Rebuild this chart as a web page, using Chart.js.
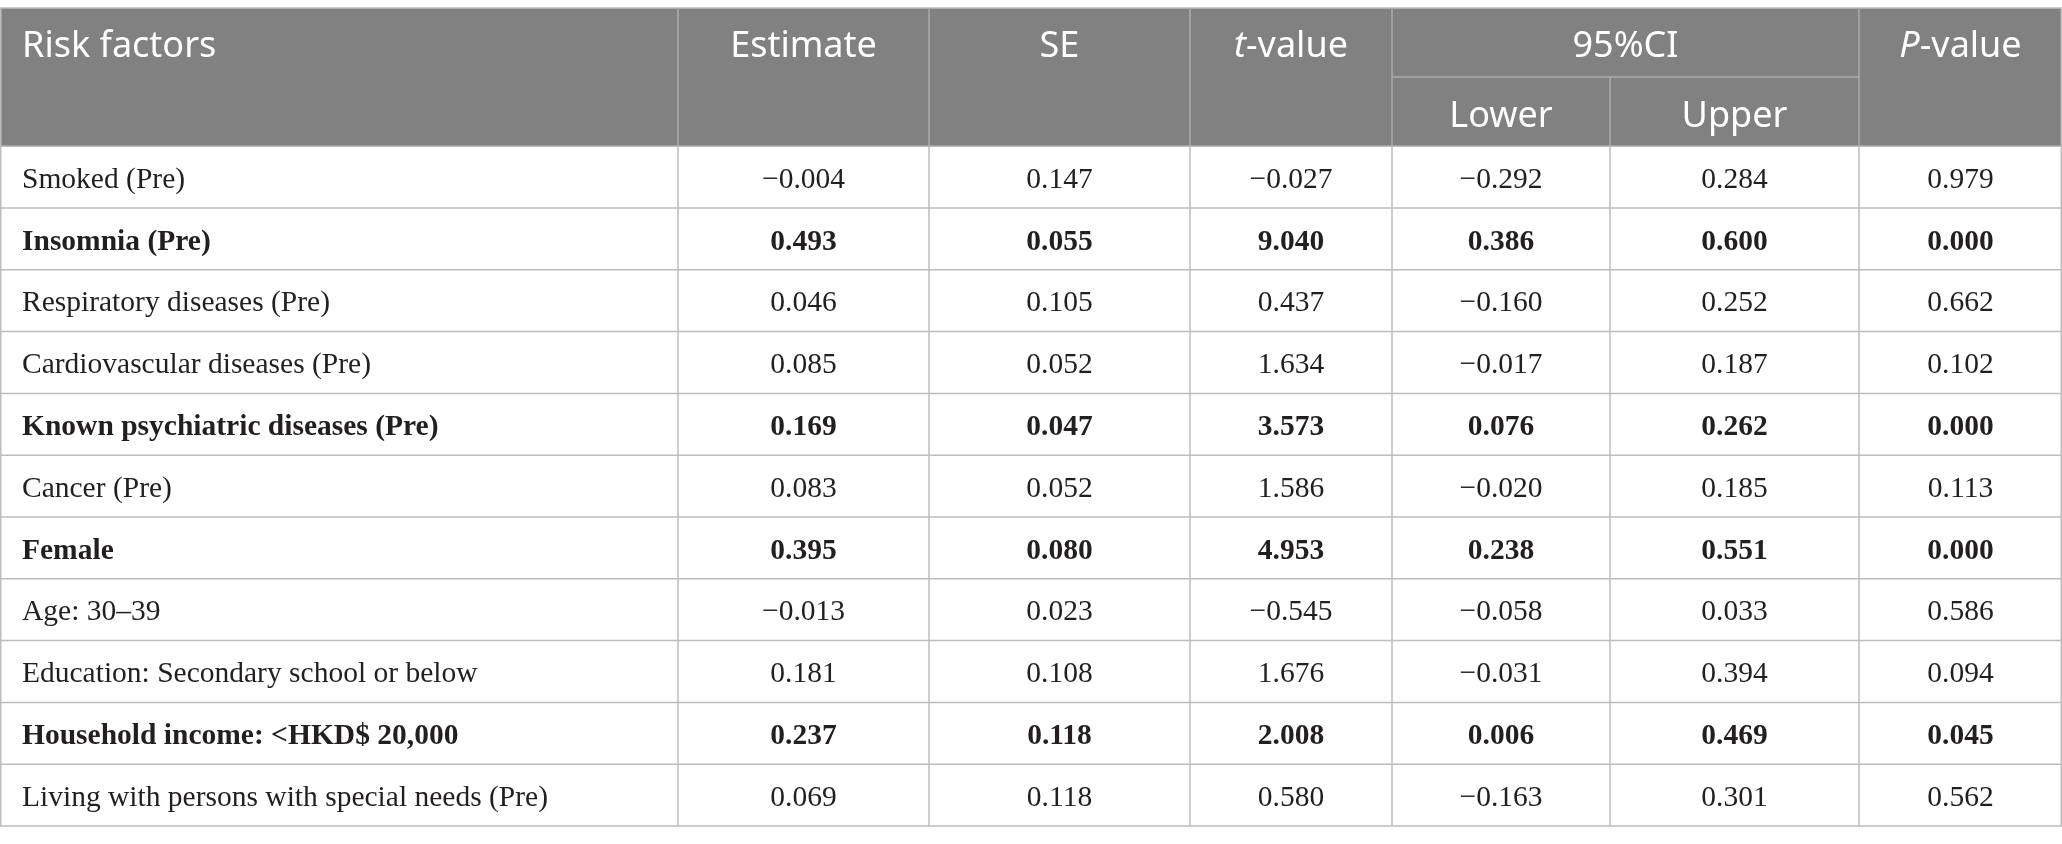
<!DOCTYPE html>
<html>
<head>
<meta charset="utf-8">
<title>Risk factors table</title>
<script src="https://cdn.jsdelivr.net/npm/chart.js@4.4.1/dist/chart.umd.min.js"></script>
<style>
  html, body { margin: 0; padding: 0; background: #ffffff; }
  #wrap { width: 2062px; height: 844px; }
</style>
</head>
<body>
<div id="wrap"><canvas id="table" width="2062" height="844"></canvas></div>
<script>
// Table values
const factors = [
    'Smoked (Pre)',
    'Insomnia (Pre)',
    'Respiratory diseases (Pre)',
    'Cardiovascular diseases (Pre)',
    'Known psychiatric diseases (Pre)',
    'Cancer (Pre)',
    'Female',
    'Age: 30\u201339',
    'Education: Secondary school or below',
    'Household income: <HKD$ 20,000',
    'Living with persons with special needs (Pre)'
];
const estimate = [-0.004, 0.493, 0.046, 0.085, 0.169, 0.083, 0.395, -0.013, 0.181, 0.237, 0.069];
const se       = [0.147, 0.055, 0.105, 0.052, 0.047, 0.052, 0.080, 0.023, 0.108, 0.118, 0.118];
const tValue   = [-0.027, 9.040, 0.437, 1.634, 3.573, 1.586, 4.953, -0.545, 1.676, 2.008, 0.580];
const ciLower  = [-0.292, 0.386, -0.160, -0.017, 0.076, -0.020, 0.238, -0.058, -0.031, 0.006, -0.163];
const ciUpper  = [0.284, 0.600, 0.252, 0.187, 0.262, 0.185, 0.551, 0.033, 0.394, 0.469, 0.301];
const pValue   = [0.979, 0.000, 0.662, 0.102, 0.000, 0.113, 0.000, 0.586, 0.094, 0.045, 0.562];

// header labels: [italic part, regular part]
const headers = [
    ['', 'Risk factors'],
    ['', 'Estimate'],
    ['', 'SE'],
    ['t', '-value'],
    ['', 'Lower'],
    ['', 'Upper'],
    ['P', '-value']
];
const groupHeader = '95%CI';

// layout (x scale units = column edges, y scale units = rows)
const colEdges = [0, 678, 929, 1190, 1392, 1610, 1859, 2062];
const headerRows = 2.236;
const leftPad = 22;

const HEAD_BG = '#808180';
const HEAD_LINE = '#a9aaa9';
const BODY_LINE = '#bdbdbd';
const TEXT = '#231f20';
const HEAD_FONT = '"Noto Sans", "Open Sans", sans-serif';
const BODY_FONT = '"Liberation Serif", "DejaVu Serif", serif';

const columns = [factors, estimate, se, tValue, ciLower, ciUpper, pValue];

function fmt(v) {
    return v.toFixed(3).replace('-', '\u2212');
}

function colCenter(c) {
    return (colEdges[c] + colEdges[c + 1]) / 2;
}

const datasets = columns.map((col, c) => ({
    label: headers[c][0] + headers[c][1],
    data: col.map((v, r) => ({ x: c === 0 ? colEdges[0] + leftPad : colCenter(c), y: r + 0.5 })),
    pointRadius: 0,
    pointHoverRadius: 0
}));

function drawHeaderText(ctx, parts, x, y, align) {
    const [it, reg] = parts;
    ctx.font = 'italic 36px ' + HEAD_FONT;
    const wi = ctx.measureText(it).width;
    ctx.font = '36px ' + HEAD_FONT;
    const wr = ctx.measureText(reg).width;
    let left = align === 'left' ? x : x - (wi + wr) / 2;
    ctx.textAlign = 'left';
    if (it) {
        ctx.font = 'italic 36px ' + HEAD_FONT;
        ctx.fillText(it, left, y);
    }
    ctx.font = '36px ' + HEAD_FONT;
    ctx.fillText(reg, left + wi, y);
}

const tablePlugin = {
    id: 'tableGrid',
    beforeDatasetsDraw(chart) {
        const ctx = chart.ctx;
        const xs = chart.scales.x, ys = chart.scales.y;
        const px = v => xs.getPixelForValue(v);
        const py = v => ys.getPixelForValue(v);
        const top = py(-headerRows), mid = py(-headerRows / 2), hb = py(0), bottom = py(factors.length);
        const left = px(colEdges[0]), right = px(colEdges[colEdges.length - 1]);

        ctx.save();
        ctx.fillStyle = HEAD_BG;
        ctx.fillRect(left, top, right - left, hb - top);

        // body rules
        ctx.strokeStyle = BODY_LINE;
        ctx.lineWidth = 1.5;
        ctx.beginPath();
        ctx.moveTo(left, top); ctx.lineTo(right, top);
        for (let r = 0; r <= factors.length; r++) {
            ctx.moveTo(left, py(r)); ctx.lineTo(right, py(r));
        }
        colEdges.forEach((e, i) => {
            let x = px(e);
            if (i === 0) x += 0.75;
            if (i === colEdges.length - 1) x -= 0.75;
            ctx.moveTo(x, hb); ctx.lineTo(x, bottom);
        });
        ctx.moveTo(left + 0.75, top); ctx.lineTo(left + 0.75, hb);
        ctx.moveTo(right - 0.75, top); ctx.lineTo(right - 0.75, hb);
        ctx.stroke();

        // header rules
        ctx.strokeStyle = HEAD_LINE;
        ctx.beginPath();
        [1, 2, 3, 4, 6].forEach(i => { ctx.moveTo(px(colEdges[i]), top); ctx.lineTo(px(colEdges[i]), hb); });
        ctx.moveTo(px(colEdges[5]), mid); ctx.lineTo(px(colEdges[5]), hb);
        ctx.moveTo(px(colEdges[4]), mid); ctx.lineTo(px(colEdges[6]), mid);
        ctx.stroke();

        // header text
        ctx.fillStyle = '#ffffff';
        ctx.textBaseline = 'middle';
        const row1 = py(-headerRows * 0.75) + 4, row2 = py(-headerRows * 0.25) + 5;
        headers.forEach((h, c) => {
            const y = (c === 4 || c === 5) ? row2 : row1;
            if (c === 0) drawHeaderText(ctx, h, px(colEdges[0] + leftPad), y, 'left');
            else drawHeaderText(ctx, h, px(colCenter(c)), y, 'center');
        });
        drawHeaderText(ctx, ['', groupHeader], px((colEdges[4] + colEdges[6]) / 2), row1, 'center');
        ctx.restore();
    },
    afterDatasetsDraw(chart) {
        const ctx = chart.ctx;
        ctx.save();
        ctx.fillStyle = TEXT;
        ctx.textBaseline = 'middle';
        chart.data.datasets.forEach((ds, c) => {
            const meta = chart.getDatasetMeta(c);
            meta.data.forEach((pt, r) => {
                const bold = pValue[r] < 0.05;
                ctx.font = (bold ? 'bold ' : '') + '29.5px ' + BODY_FONT;
                ctx.textAlign = c === 0 ? 'left' : 'center';
                const v = columns[c][r];
                ctx.fillText(c === 0 ? v : fmt(v), pt.x, pt.y + 3);
            });
        });
        ctx.restore();
    }
};

new Chart(document.getElementById('table'), {
    type: 'scatter',
    data: { datasets: datasets },
    options: {
        responsive: false,
        animation: false,
        devicePixelRatio: 1,
        layout: { padding: { top: 8, bottom: 18, left: 0, right: 0 } },
        plugins: { legend: { display: false }, tooltip: { enabled: false } },
        events: [],
        scales: {
            x: { type: 'linear', display: false, min: colEdges[0], max: colEdges[colEdges.length - 1] },
            y: { type: 'linear', display: false, reverse: true, min: -headerRows, max: factors.length }
        }
    },
    plugins: [tablePlugin]
});
</script>
</body>
</html>
